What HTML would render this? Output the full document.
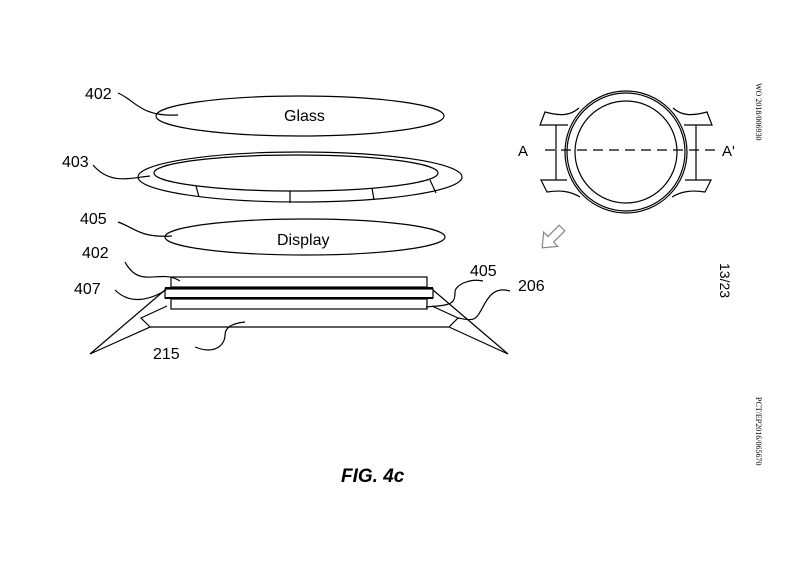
<!DOCTYPE html>
<html><head><style>body{margin:0;background:#fff}svg{display:block}</style></head><body>
<svg width="800" height="565" viewBox="0 0 800 565" xmlns="http://www.w3.org/2000/svg" font-family="Liberation Sans, sans-serif">
<g fill="none" stroke="#000" stroke-width="1.2">
<ellipse cx="300" cy="116" rx="144" ry="20"/>
<ellipse cx="300" cy="177" rx="162" ry="25"/>
<ellipse cx="296" cy="173" rx="142" ry="18"/>
<path d="M196 186 L199 197 M290 191 L290 203 M372 188 L374 200 M430 180 L436 193"/>
<ellipse cx="305" cy="237" rx="140" ry="18"/>
<rect x="171" y="277" width="256" height="10"/>
<rect x="165" y="289" width="268" height="9"/>
<rect x="171" y="299" width="256" height="10"/>
<path d="M165 288 H433" stroke-width="2"/>
<path d="M165 298 H433" stroke-width="2"/>
<path d="M165 290 L90 354 L150 327 L141 318 L167 306"/>
<path d="M433 290 L508 354 L449 327 L458 318 L432 306"/>
<path d="M150 327 H449"/>
<path d="M118 93 C135 100,140 117,178 115"/>
<path d="M93 165 C110 185,130 178,150 176"/>
<path d="M118 222 C135 228,140 238,172 236"/>
<path d="M125 262 C140 290,160 268,180 281"/>
<path d="M115 290 C130 305,150 300,166 290"/>
<path d="M483 281 C470 278,455 285,455 292 C455 305,450 305,426 307"/>
<path d="M510 291 C490 285,485 305,480 312 C475 322,470 320,458 318"/>
<path d="M195 347 C215 355,225 345,225 335 C225 326,235 323,245 322"/>
<circle cx="626" cy="152" r="61"/>
<circle cx="626" cy="152" r="59"/>
<circle cx="626" cy="152" r="51"/>
<path d="M579 108 C570 116,560 116,545 112 L540 125 H568"/>
<path d="M567 180 H541 L547 192 C560 190,570 191,580 197"/>
<path d="M673 108 C682 116,692 116,707 112 L712 125 H684"/>
<path d="M685 180 H711 L705 192 C692 190,682 191,672 197"/>
<path d="M556 125 V180 M696 125 V180"/>
<path d="M545 150 H718" stroke-dasharray="10 6"/>
<polygon transform="translate(562,228) rotate(135)" points="0,-4 16,-4 16,-10 28,0 16,10 16,4 0,4" stroke="#888"/>
</g>
<g font-size="16" fill="#000">
<text x="85" y="99">402</text>
<text x="62" y="167">403</text>
<text x="80" y="224">405</text>
<text x="82" y="258">402</text>
<text x="74" y="294">407</text>
<text x="470" y="276">405</text>
<text x="518" y="291">206</text>
<text x="153" y="359">215</text>
<text x="284" y="121">Glass</text>
<text x="277" y="245">Display</text>
<text x="518" y="156" font-size="15">A</text>
<text x="722" y="156" font-size="15">A'</text>
<text x="341" y="482" font-size="19" font-weight="bold" font-style="italic">FIG. 4c</text>
</g>
<g font-family="Liberation Serif, serif" font-size="8" fill="#000">
<text transform="translate(756,83) rotate(90)">WO 2018/006930</text>
<text transform="translate(756,397) rotate(90)">PCT/EP2016/065670</text>
</g>
<text transform="translate(720,263) rotate(90)" font-size="14" fill="#000" font-family="Liberation Sans, sans-serif">13/23</text>
</svg>
</body></html>
